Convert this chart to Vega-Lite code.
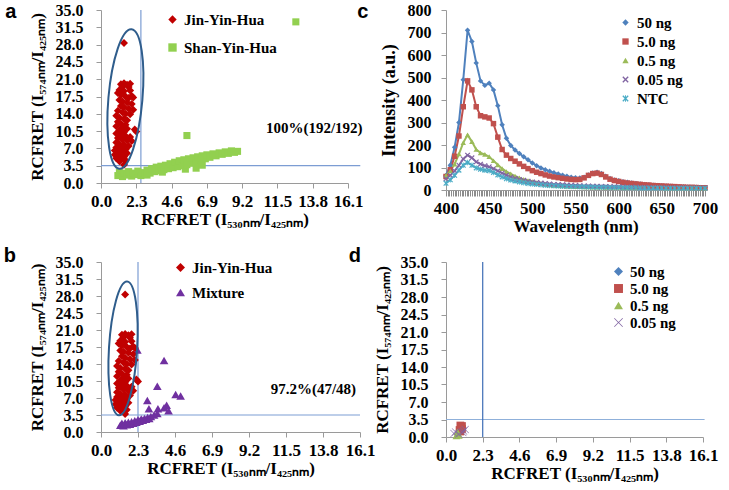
{
  "$schema": "https://vega.github.io/schema/vega-lite/v6.json",
  "padding": {"left": 3, "top": 2, "right": 5, "bottom": 5},
  "background": "white",
  "config": {
    "view": {"stroke": null},
    "font": "Liberation Serif",
    "axis": {"grid": false, "domainColor": "#9a9a9a", "tickColor": "#9a9a9a", "tickSize": 5, "labelFont": "Liberation Serif", "labelFontWeight": "bold", "labelFontSize": 17, "labelColor": "black", "titleFont": "Liberation Serif", "titleFontWeight": "bold", "titleFontSize": 17, "titleColor": "black", "labelPadding": 5, "titlePadding": 2, "labelOverlap": false, "labelFlush": false},
    "axisY": {"labelPadding": 13, "titlePadding": 9, "labelFontSize": 16},
    "legend": {"labelFont": "Liberation Serif", "labelFontWeight": "bold", "labelFontSize": 15, "labelColor": "black", "symbolOpacity": 1, "symbolStrokeWidth": 0},
    "title": {"font": "Liberation Sans", "fontSize": 20, "fontWeight": "bold", "color": "black"}
  },
  "datasets": {
    "jyh": [
      {"x":1.5,"y":28.3},
      {"x":1.3,"y":20.0},{"x":1.5,"y":20.2},{"x":1.7,"y":19.9},{"x":1.9,"y":20.1},{"x":1.4,"y":19.5},{"x":1.8,"y":19.4},
      {"x":1.2,"y":18.8},{"x":1.5,"y":18.6},{"x":1.9,"y":18.7},{"x":2.0,"y":17.6},{"x":1.1,"y":18.2},{"x":1.3,"y":17.8},
      {"x":1.6,"y":17.5},{"x":1.8,"y":17.2},{"x":2.1,"y":17.3},{"x":1.2,"y":16.8},{"x":1.4,"y":16.5},{"x":1.7,"y":16.3},
      {"x":2.0,"y":16.0},{"x":1.3,"y":15.6},{"x":1.5,"y":15.3},{"x":1.8,"y":15.0},{"x":2.1,"y":14.8},{"x":1.1,"y":14.6},
      {"x":1.4,"y":14.3},{"x":1.6,"y":14.0},{"x":1.9,"y":13.9},{"x":1.0,"y":13.6},{"x":1.2,"y":13.2},{"x":1.5,"y":13.0},
      {"x":1.7,"y":12.7},{"x":1.1,"y":12.4},{"x":1.3,"y":12.0},{"x":1.6,"y":11.8},{"x":1.0,"y":11.5},{"x":1.4,"y":11.2},
      {"x":1.7,"y":11.0},{"x":2.2,"y":10.8},{"x":2.3,"y":10.4},{"x":1.2,"y":10.6},{"x":1.5,"y":10.3},{"x":1.0,"y":10.0},
      {"x":1.3,"y":9.7},{"x":1.6,"y":9.5},{"x":1.9,"y":9.3},{"x":1.1,"y":9.1},{"x":1.4,"y":8.8},{"x":1.7,"y":8.6},
      {"x":2.0,"y":8.5},{"x":1.0,"y":8.2},{"x":1.2,"y":7.9},{"x":1.5,"y":7.7},{"x":1.8,"y":7.5},{"x":1.0,"y":7.2},
      {"x":1.3,"y":7.0},{"x":1.6,"y":6.8},{"x":0.9,"y":6.6},{"x":1.1,"y":6.3},{"x":1.4,"y":6.1},{"x":1.7,"y":6.0},
      {"x":0.9,"y":5.7},{"x":1.2,"y":5.5},{"x":1.5,"y":5.3},{"x":1.0,"y":5.0},{"x":1.3,"y":4.8},{"x":1.6,"y":4.6},
      {"x":1.2,"y":4.4},{"x":1.5,"y":3.7}
    ],
    "syh": [
      {"x":1.1,"y":1.5},{"x":1.2,"y":2.2},{"x":1.4,"y":1.3},{"x":1.5,"y":2.0},{"x":1.7,"y":1.6},{"x":1.8,"y":2.3},
      {"x":2.0,"y":1.4},{"x":2.1,"y":2.0},{"x":2.3,"y":1.7},{"x":2.4,"y":2.4},{"x":2.6,"y":1.5},{"x":2.7,"y":2.1},
      {"x":2.9,"y":1.8},{"x":3.0,"y":2.6},{"x":3.0,"y":1.6},{"x":3.2,"y":2.0},{"x":3.3,"y":2.9},{"x":3.5,"y":2.3},
      {"x":3.6,"y":3.2},{"x":3.8,"y":2.5},{"x":3.9,"y":3.4},{"x":4.0,"y":2.2},{"x":4.1,"y":2.7},{"x":4.2,"y":3.6},
      {"x":4.4,"y":2.9},{"x":4.5,"y":3.9},{"x":4.7,"y":3.1},{"x":4.8,"y":4.2},{"x":5.0,"y":3.3},{"x":5.1,"y":4.5},
      {"x":5.3,"y":3.5},{"x":5.4,"y":4.7},{"x":5.5,"y":2.8},{"x":5.6,"y":3.7},{"x":5.7,"y":4.9},{"x":5.9,"y":4.0},
      {"x":6.0,"y":5.1},{"x":6.2,"y":4.3},{"x":6.2,"y":3.0},{"x":6.3,"y":5.3},{"x":6.5,"y":4.6},{"x":6.6,"y":5.5},
      {"x":6.6,"y":3.6},{"x":6.8,"y":4.9},{"x":6.9,"y":5.7},{"x":7.1,"y":5.2},{"x":7.3,"y":5.9},{"x":7.5,"y":5.5},
      {"x":7.7,"y":6.1},{"x":7.9,"y":5.8},{"x":8.1,"y":6.3},{"x":8.3,"y":6.0},{"x":8.5,"y":6.5},{"x":8.7,"y":6.2},
      {"x":8.9,"y":6.4},{"x":5.6,"y":9.6},{"x":12.7,"y":32.6}
    ],
    "mix": [
      {"x":1.2,"y":1.4},{"x":1.3,"y":1.8},{"x":1.4,"y":1.3},{"x":1.5,"y":1.9},{"x":1.6,"y":1.5},{"x":1.7,"y":2.0},
      {"x":1.8,"y":1.6},{"x":1.9,"y":2.1},{"x":2.0,"y":1.8},{"x":2.1,"y":2.3},{"x":2.2,"y":2.0},{"x":2.3,"y":2.5},
      {"x":2.4,"y":2.2},{"x":2.5,"y":2.7},{"x":2.6,"y":2.4},{"x":2.7,"y":2.8},{"x":2.8,"y":2.6},{"x":2.9,"y":3.0},
      {"x":3.0,"y":2.8},{"x":3.1,"y":3.2},{"x":3.3,"y":3.5},{"x":3.5,"y":3.8},{"x":2.98,"y":4.8},{"x":3.54,"y":4.8},
      {"x":3.92,"y":5.0},{"x":4.08,"y":5.5},{"x":4.2,"y":4.4},{"x":2.88,"y":6.5},{"x":3.5,"y":9.4},{"x":4.64,"y":7.7},
      {"x":4.95,"y":7.4},{"x":2.26,"y":16.9},{"x":3.92,"y":14.7}
    ],
    "spec": [
      {"w":400,"k1":65,"k2":60,"k3":65,"k4":50,"k5":30},
      {"w":405,"k1":110,"k2":90,"k3":85,"k4":65,"k5":45},
      {"w":410,"k1":190,"k2":150,"k3":115,"k4":85,"k5":65},
      {"w":415,"k1":300,"k2":240,"k3":160,"k4":110,"k5":88},
      {"w":420,"k1":490,"k2":370,"k3":210,"k4":138,"k5":110},
      {"w":425,"k1":710,"k2":485,"k3":245,"k4":155,"k5":122},
      {"w":430,"k1":660,"k2":445,"k3":215,"k4":143,"k5":110},
      {"w":435,"k1":565,"k2":370,"k3":180,"k4":125,"k5":98},
      {"w":440,"k1":485,"k2":330,"k3":165,"k4":115,"k5":92},
      {"w":445,"k1":465,"k2":325,"k3":158,"k4":108,"k5":88},
      {"w":450,"k1":475,"k2":320,"k3":148,"k4":103,"k5":86},
      {"w":455,"k1":445,"k2":295,"k3":130,"k4":95,"k5":78},
      {"w":460,"k1":375,"k2":235,"k3":112,"k4":85,"k5":67},
      {"w":465,"k1":290,"k2":180,"k3":95,"k4":75,"k5":58},
      {"w":470,"k1":230,"k2":155,"k3":82,"k4":66,"k5":50},
      {"w":475,"k1":198,"k2":140,"k3":72,"k4":58,"k5":44},
      {"w":480,"k1":178,"k2":128,"k3":62,"k4":52,"k5":40},
      {"w":485,"k1":162,"k2":116,"k3":54,"k4":47,"k5":36},
      {"w":490,"k1":148,"k2":105,"k3":47,"k4":43,"k5":32},
      {"w":495,"k1":134,"k2":95,"k3":42,"k4":39,"k5":29},
      {"w":500,"k1":120,"k2":86,"k3":37,"k4":36,"k5":27},
      {"w":505,"k1":108,"k2":79,"k3":33,"k4":33,"k5":25},
      {"w":510,"k1":98,"k2":73,"k3":29,"k4":31,"k5":23},
      {"w":515,"k1":90,"k2":67,"k3":26,"k4":29,"k5":21},
      {"w":520,"k1":83,"k2":62,"k3":23,"k4":27,"k5":20},
      {"w":525,"k1":77,"k2":58,"k3":21,"k4":25,"k5":19},
      {"w":530,"k1":71,"k2":55,"k3":19,"k4":24,"k5":18},
      {"w":535,"k1":66,"k2":52,"k3":18,"k4":23,"k5":17},
      {"w":540,"k1":61,"k2":49,"k3":17,"k4":22,"k5":16},
      {"w":545,"k1":57,"k2":47,"k3":16,"k4":21,"k5":15},
      {"w":550,"k1":54,"k2":46,"k3":15,"k4":20,"k5":15},
      {"w":555,"k1":53,"k2":47,"k3":15,"k4":19,"k5":14},
      {"w":560,"k1":57,"k2":54,"k3":14,"k4":18,"k5":14},
      {"w":565,"k1":67,"k2":65,"k3":14,"k4":18,"k5":13},
      {"w":570,"k1":76,"k2":73,"k3":13,"k4":17,"k5":13},
      {"w":575,"k1":79,"k2":75,"k3":13,"k4":17,"k5":12},
      {"w":580,"k1":73,"k2":69,"k3":13,"k4":16,"k5":12},
      {"w":585,"k1":61,"k2":58,"k3":12,"k4":16,"k5":12},
      {"w":590,"k1":51,"k2":48,"k3":12,"k4":15,"k5":11},
      {"w":595,"k1":45,"k2":42,"k3":12,"k4":15,"k5":11},
      {"w":600,"k1":41,"k2":38,"k3":12,"k4":14,"k5":11},
      {"w":605,"k1":37,"k2":34,"k3":11,"k4":14,"k5":10},
      {"w":610,"k1":34,"k2":31,"k3":11,"k4":13,"k5":10},
      {"w":615,"k1":31,"k2":29,"k3":11,"k4":13,"k5":10},
      {"w":620,"k1":29,"k2":27,"k3":11,"k4":13,"k5":10},
      {"w":625,"k1":27,"k2":25,"k3":10,"k4":12,"k5":9},
      {"w":630,"k1":25,"k2":23,"k3":10,"k4":12,"k5":9},
      {"w":635,"k1":23,"k2":22,"k3":10,"k4":12,"k5":9},
      {"w":640,"k1":21,"k2":20,"k3":10,"k4":11,"k5":9},
      {"w":645,"k1":20,"k2":19,"k3":10,"k4":11,"k5":9},
      {"w":650,"k1":19,"k2":18,"k3":10,"k4":11,"k5":9},
      {"w":655,"k1":18,"k2":17,"k3":9,"k4":11,"k5":8},
      {"w":660,"k1":17,"k2":16,"k3":9,"k4":10,"k5":8},
      {"w":665,"k1":16,"k2":15,"k3":9,"k4":10,"k5":8},
      {"w":670,"k1":15,"k2":14,"k3":9,"k4":10,"k5":8},
      {"w":675,"k1":14,"k2":13,"k3":9,"k4":10,"k5":8},
      {"w":680,"k1":13,"k2":12,"k3":9,"k4":10,"k5":8},
      {"w":685,"k1":12,"k2":12,"k3":9,"k4":9,"k5":8},
      {"w":690,"k1":12,"k2":11,"k3":9,"k4":9,"k5":8},
      {"w":695,"k1":11,"k2":10,"k3":8,"k4":9,"k5":8},
      {"w":700,"k1":11,"k2":10,"k3":8,"k4":9,"k5":8}
    ],
    "dpts": [
      {"g":"50 ng","x":0.95,"y":1.9},{"g":"50 ng","x":1.0,"y":2.1},{"g":"50 ng","x":0.9,"y":1.7},
      {"g":"5.0 ng","x":0.9,"y":2.3},{"g":"5.0 ng","x":1.0,"y":2.2},{"g":"5.0 ng","x":0.95,"y":1.8},{"g":"5.0 ng","x":0.85,"y":1.4},
      {"g":"5.0 ng","x":0.9,"y":1.1},{"g":"5.0 ng","x":1.0,"y":1.6},{"g":"5.0 ng","x":0.95,"y":2.0},
      {"g":"0.5 ng","x":0.7,"y":0.5},{"g":"0.5 ng","x":0.75,"y":0.8},{"g":"0.5 ng","x":0.8,"y":0.3},{"g":"0.5 ng","x":0.65,"y":0.2},{"g":"0.5 ng","x":0.72,"y":1.0},
      {"g":"0.05 ng","x":0.5,"y":0.7},{"g":"0.05 ng","x":0.6,"y":1.0},{"g":"0.05 ng","x":1.1,"y":1.2},{"g":"0.05 ng","x":1.2,"y":1.5},{"g":"0.05 ng","x":0.8,"y":0.6},{"g":"0.05 ng","x":1.05,"y":0.9}
    ]
  },
  "columns": 2,
  "spacing": {"row": 72, "column": 86},
  "bounds": "flush",
  "resolve": {"scale": {"color": "independent", "shape": "independent"}, "legend": {"color": "independent", "shape": "independent"}},
  "concat": [
    {
      "width": 247, "height": 173,
      "title": {"text": "a", "orient": "left", "anchor": "end", "angle": 0, "align": "center", "baseline": "top", "offset": 6},
      "encoding": {
        "x": {"field": "x", "type": "quantitative", "scale": {"domain": [0, 16.1], "nice": false, "zero": false}, "axis": {"values": [0, 2.3, 4.6, 6.9, 9.2, 11.5, 13.8, 16.1], "format": ".1f", "title": "RCFRET (I₅₃₀ₙₘ/I₄₂₅ₙₘ)"}},
        "y": {"field": "y", "type": "quantitative", "scale": {"domain": [0, 35], "nice": false}, "axis": {"values": [0, 3.5, 7, 10.5, 14, 17.5, 21, 24.5, 28, 31.5, 35], "format": ".1f", "title": "RCFRET (I₅₇₄ₙₘ/I₄₂₅ₙₘ)"}}
      },
      "layer": [
        {"data": {"values": [{"x": 2.6, "x2": 2.6, "y": 0, "y2": 35}, {"x": 0, "x2": 16.9, "y": 3.5, "y2": 3.5}]}, "mark": {"type": "rule", "color": "#7C9DD3", "strokeWidth": 1.2}, "encoding": {"x2": {"field": "x2"}, "y2": {"field": "y2"}}},
        {"data": {"name": "syh"}, "mark": {"type": "point", "filled": true, "opacity": 1, "size": 50},
         "encoding": {"color": {"datum": "Shan-Yin-Hua", "type": "nominal", "scale": {"domain": ["Jin-Yin-Hua", "Shan-Yin-Hua"], "range": ["#C00000", "#92D050"]}, "legend": {"orient": "none", "legendX": 64, "legendY": 2, "title": null, "rowPadding": 12, "symbolSize": 70}},
                      "shape": {"datum": "Shan-Yin-Hua", "type": "nominal", "scale": {"domain": ["Jin-Yin-Hua", "Shan-Yin-Hua"], "range": ["diamond", "square"]}, "legend": {"orient": "none", "legendX": 64, "legendY": 2, "title": null, "rowPadding": 12, "symbolSize": 70}}}},
        {"data": {"name": "jyh"}, "mark": {"type": "point", "filled": true, "opacity": 1, "size": 64},
         "encoding": {"color": {"datum": "Jin-Yin-Hua", "type": "nominal"}, "shape": {"datum": "Jin-Yin-Hua", "type": "nominal"}}},
        {"data": {"values": [{"x": 1.59, "y": 17.0}]}, "mark": {"type": "point", "shape": "M0,-1A0.243,1 0 1,1 0,1A0.243,1 0 1,1 0,-1Z", "size": 19600, "angle": 5, "filled": false, "color": "#2F5D8C", "strokeWidth": 2, "opacity": 1}},
        {"data": {"values": [{"x": 13.9, "y": 11.1, "t": "100%(192/192)"}]}, "mark": {"type": "text", "font": "Liberation Serif", "fontWeight": "bold", "fontSize": 15, "color": "black"}, "encoding": {"text": {"field": "t"}}}
      ]
    },
    {
      "width": 259, "height": 180,
      "title": {"text": "c", "orient": "left", "anchor": "end", "angle": 0, "align": "center", "baseline": "top", "offset": 6},
      "data": {"name": "spec"},
      "transform": [{"fold": ["k1", "k2", "k3", "k4", "k5"], "as": ["k", "v"]}],
      "encoding": {
        "x": {"field": "w", "type": "quantitative", "scale": {"domain": [400, 700], "nice": false, "zero": false},
              "axis": {"values": [400,402,404,406,408,410,412,414,416,418,420,422,424,426,428,430,432,434,436,438,440,442,444,446,448,450,452,454,456,458,460,462,464,466,468,470,472,474,476,478,480,482,484,486,488,490,492,494,496,498,500,502,504,506,508,510,512,514,516,518,520,522,524,526,528,530,532,534,536,538,540,542,544,546,548,550,552,554,556,558,560,562,564,566,568,570,572,574,576,578,580,582,584,586,588,590,592,594,596,598,600,602,604,606,608,610,612,614,616,618,620,622,624,626,628,630,632,634,636,638,640,642,644,646,648,650,652,654,656,658,660,662,664,666,668,670,672,674,676,678,680,682,684,686,688,690,692,694,696,698,700],
                       "labelExpr": "datum.value % 50 === 0 ? datum.label : ''", "title": "Wavelength (nm)", "tickColor": "#8c8c8c", "tickSize": 6, "labelPadding": 4}},
        "y": {"field": "v", "type": "quantitative", "scale": {"domain": [0, 800], "nice": false}, "axis": {"values": [0, 100, 200, 300, 400, 500, 600, 700, 800], "title": "Intensity (a.u.)", "titleFontSize": 18, "labelPadding": 10}}
      },
      "layer": [
        {"mark": {"type": "line", "strokeWidth": 2}, "encoding": {"color": {"field": "k", "type": "nominal", "scale": {"domain": ["k1", "k2", "k3", "k4", "k5"], "range": ["#4F81BD", "#C0504D", "#9BBB59", "#8064A2", "#4BACC6"]}, "legend": {"orient": "none", "legendX": 172, "legendY": 5, "title": null, "rowPadding": 3, "symbolSize": 40, "labelExpr": "datum.value == 'k1' ? '50 ng' : datum.value == 'k2' ? '5.0 ng' : datum.value == 'k3' ? '0.5 ng' : datum.value == 'k4' ? '0.05 ng' : 'NTC'"}}}},
        {"mark": {"type": "point", "filled": true, "opacity": 1, "size": 30}, "encoding": {"color": {"field": "k", "type": "nominal"}, "shape": {"field": "k", "type": "nominal", "scale": {"domain": ["k1", "k2", "k3", "k4", "k5"], "range": ["diamond", "square", "triangle-up", "M-1,-0.7L-0.7,-1L0,-0.3L0.7,-1L1,-0.7L0.3,0L1,0.7L0.7,1L0,0.3L-0.7,1L-1,0.7L-0.3,0Z", "M-1,-0.7L-0.7,-1L0,-0.3L0.7,-1L1,-0.7L0.3,0L1,0.7L0.7,1L0,0.3L-0.7,1L-1,0.7L-0.3,0Z M-0.15,-1L0.15,-1L0.15,1L-0.15,1Z"]}, "legend": {"orient": "none", "legendX": 172, "legendY": 5, "title": null, "rowPadding": 3, "symbolSize": 40, "labelExpr": "datum.value == 'k1' ? '50 ng' : datum.value == 'k2' ? '5.0 ng' : datum.value == 'k3' ? '0.5 ng' : datum.value == 'k4' ? '0.05 ng' : 'NTC'"}}}}
      ]
    },
    {
      "width": 259, "height": 170,
      "title": {"text": "b", "orient": "left", "anchor": "end", "angle": 0, "align": "center", "baseline": "top", "offset": 6, "dy": -8},
      "encoding": {
        "x": {"field": "x", "type": "quantitative", "scale": {"domain": [0, 16.1], "nice": false, "zero": false}, "axis": {"values": [0, 2.3, 4.6, 6.9, 9.2, 11.5, 13.8, 16.1], "format": ".1f", "title": "RCFRET (I₅₃₀ₙₘ/I₄₂₅ₙₘ)"}},
        "y": {"field": "y", "type": "quantitative", "scale": {"domain": [0, 35], "nice": false}, "axis": {"values": [0, 3.5, 7, 10.5, 14, 17.5, 21, 24.5, 28, 31.5, 35], "format": ".1f", "title": "RCFRET (I₅₇₄ₙₘ/I₄₂₅ₙₘ)"}}
      },
      "layer": [
        {"data": {"values": [{"x": 2.3, "x2": 2.3, "y": 0, "y2": 35}, {"x": 0, "x2": 16.1, "y": 3.5, "y2": 3.5}]}, "mark": {"type": "rule", "color": "#7C9DD3", "strokeWidth": 1.2}, "encoding": {"x2": {"field": "x2"}, "y2": {"field": "y2"}}},
        {"data": {"name": "mix"}, "mark": {"type": "point", "filled": true, "opacity": 1, "size": 75},
         "encoding": {"color": {"datum": "Mixture", "type": "nominal", "scale": {"domain": ["Jin-Yin-Hua", "Mixture"], "range": ["#C00000", "#7030A0"]}, "legend": {"orient": "none", "legendX": 72, "legendY": -2, "title": null, "rowPadding": 9, "symbolSize": 80}},
                      "shape": {"datum": "Mixture", "type": "nominal", "scale": {"domain": ["Jin-Yin-Hua", "Mixture"], "range": ["diamond", "triangle-up"]}, "legend": {"orient": "none", "legendX": 72, "legendY": -2, "title": null, "rowPadding": 9, "symbolSize": 80}}}},
        {"data": {"name": "jyh"}, "mark": {"type": "point", "filled": true, "opacity": 1, "size": 64},
         "encoding": {"color": {"datum": "Jin-Yin-Hua", "type": "nominal"}, "shape": {"datum": "Jin-Yin-Hua", "type": "nominal"}}},
        {"data": {"values": [{"x": 1.37, "y": 17.2}]}, "mark": {"type": "point", "shape": "M0,-1A0.21,1 0 1,1 0,1A0.21,1 0 1,1 0,-1Z", "size": 17956, "angle": 3.5, "filled": false, "color": "#2F5D8C", "strokeWidth": 2, "opacity": 1}},
        {"data": {"values": [{"x": 13.2, "y": 8.85, "t": "97.2%(47/48)"}]}, "mark": {"type": "text", "font": "Liberation Serif", "fontWeight": "bold", "fontSize": 15, "color": "black"}, "encoding": {"text": {"field": "t"}}}
      ]
    },
    {
      "width": 257, "height": 175,
      "title": {"text": "d", "orient": "left", "anchor": "end", "angle": 0, "align": "center", "baseline": "top", "offset": 6, "dy": -8},
      "encoding": {
        "x": {"field": "x", "type": "quantitative", "scale": {"domain": [0, 16.1], "nice": false, "zero": false}, "axis": {"values": [0, 2.3, 4.6, 6.9, 9.2, 11.5, 13.8, 16.1], "format": ".1f", "title": "RCFRET (I₅₃₀ₙₘ/I₄₂₅ₙₘ)"}},
        "y": {"field": "y", "type": "quantitative", "scale": {"domain": [0, 35], "nice": false}, "axis": {"values": [0, 3.5, 7, 10.5, 14, 17.5, 21, 24.5, 28, 31.5, 35], "format": ".1f", "title": "RCFRET (I₅₇₄ₙₘ/I₄₂₅ₙₘ)"}}
      },
      "layer": [
        {"data": {"values": [{"x": 0, "x2": 16.2, "y": 3.5, "y2": 3.5}]}, "mark": {"type": "rule", "color": "#8FB0DA", "strokeWidth": 1.2}, "encoding": {"x2": {"field": "x2"}, "y2": {"field": "y2"}}},
        {"data": {"values": [{"x": 2.3, "x2": 2.3, "y": 0, "y2": 35}]}, "mark": {"type": "rule", "color": "#3E6DB5", "strokeWidth": 1.2}, "encoding": {"x2": {"field": "x2"}, "y2": {"field": "y2"}}},
        {"data": {"name": "dpts"}, "mark": {"type": "point", "filled": true, "opacity": 1, "size": 60},
         "encoding": {"color": {"field": "g", "type": "nominal", "scale": {"domain": ["50 ng", "5.0 ng", "0.5 ng", "0.05 ng"], "range": ["#4F81BD", "#C0504D", "#9BBB59", "#8064A2"]}, "legend": {"orient": "none", "legendX": 165, "legendY": 2, "title": null, "rowPadding": 1, "symbolSize": 80}},
                      "shape": {"field": "g", "type": "nominal", "scale": {"domain": ["50 ng", "5.0 ng", "0.5 ng", "0.05 ng"], "range": ["diamond", "square", "triangle-up", "M-1,-0.88L-0.88,-1L0,-0.12L0.88,-1L1,-0.88L0.12,0L1,0.88L0.88,1L0,0.12L-0.88,1L-1,0.88L-0.12,0Z"]}, "legend": {"orient": "none", "legendX": 165, "legendY": 2, "title": null, "rowPadding": 1, "symbolSize": 80}}}}
      ]
    }
  ]
}
